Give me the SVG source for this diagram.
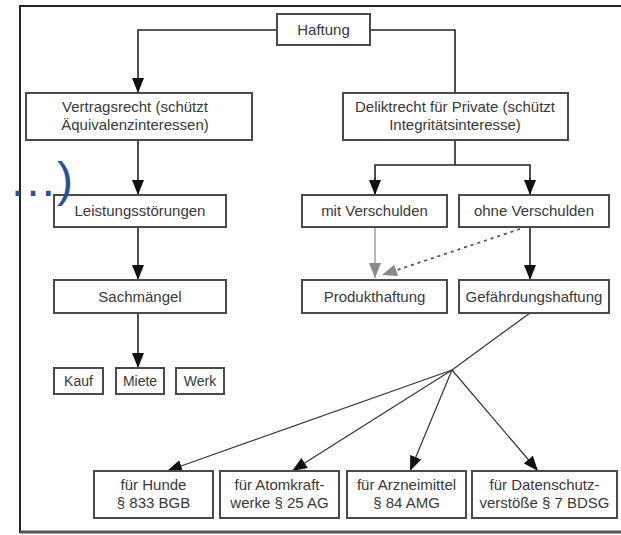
<svg xmlns="http://www.w3.org/2000/svg" width="621" height="535" viewBox="0 0 621 535">
  <style>
    .box { fill: #ffffff; stroke: #4a4a4a; stroke-width: 2; }
    .t { font-family: "Liberation Sans", Arial, sans-serif; font-size: 15px; fill: #383838; text-anchor: middle; }
    .ts { font-family: "Liberation Sans", Arial, sans-serif; font-size: 14px; fill: #383838; text-anchor: middle; }
    .ln { fill: none; stroke: #222222; stroke-width: 1.6; }
    .thin { fill: none; stroke: #333333; stroke-width: 1.2; }
    .gray { fill: none; stroke: #9a9a9a; stroke-width: 1.4; }
    .dot { fill: none; stroke: #555555; stroke-width: 1.8; stroke-dasharray: 3 4; }
    .frame { fill: none; stroke: #222222; stroke-width: 2; }
  </style>
  <defs>
    <marker id="ah" markerUnits="userSpaceOnUse" markerWidth="16" markerHeight="12" refX="15" refY="6" orient="auto">
      <path d="M0,0 L15,6 L0,12 z" fill="#111111"/>
    </marker>
    <marker id="ahg" markerUnits="userSpaceOnUse" markerWidth="16" markerHeight="12" refX="15" refY="6" orient="auto">
      <path d="M0,0 L15,6 L0,12 z" fill="#8a8a8a"/>
    </marker>
  </defs>

  <rect x="0" y="0" width="621" height="535" fill="#ffffff"/>
  <g id="frame">
    <polyline class="frame" points="621,6 20,6 20,533"/>
    <line x1="20" y1="532" x2="621" y2="532" stroke="#555555" stroke-width="3"/>
  </g>

  <g id="connectors">
    <polyline class="ln" points="277,30 138,30 138,93" marker-end="url(#ah)"/>
    <polyline class="ln" points="370,30 455,30 455,93"/>
    <line class="ln" x1="138" y1="140" x2="138" y2="195" marker-end="url(#ah)"/>
    <line class="ln" x1="455" y1="140" x2="455" y2="165"/>
    <polyline class="ln" points="375,195 375,165 530,165 530,195"/>
    <line class="ln" x1="375" y1="178" x2="375" y2="195" marker-end="url(#ah)"/>
    <line class="ln" x1="530" y1="178" x2="530" y2="195" marker-end="url(#ah)"/>
    <line class="ln" x1="138" y1="227" x2="138" y2="280" marker-end="url(#ah)"/>
    <line class="ln" x1="138" y1="313" x2="138" y2="368" marker-end="url(#ah)"/>
    <line class="gray" x1="375" y1="227" x2="375" y2="278" marker-end="url(#ahg)"/>
    <line class="dot" x1="520" y1="229" x2="382" y2="275" marker-end="url(#ahg)"/>
    <line class="ln" x1="530" y1="227" x2="530" y2="280" marker-end="url(#ah)"/>
    <line class="thin" x1="530" y1="313" x2="452" y2="370"/>
    <line class="thin" x1="452" y1="370" x2="167" y2="471" marker-end="url(#ah)"/>
    <line class="thin" x1="452" y1="370" x2="292" y2="471" marker-end="url(#ah)"/>
    <line class="thin" x1="452" y1="370" x2="410" y2="471" marker-end="url(#ah)"/>
    <line class="thin" x1="452" y1="370" x2="538" y2="471" marker-end="url(#ah)"/>
  </g>

  <g id="haftung">
    <rect class="box" x="277" y="14" width="93" height="31"/>
    <text class="t" x="323.5" y="35">Haftung</text>
  </g>
  <g id="vertragsrecht">
    <rect class="box" x="26" y="93" width="226" height="47"/>
    <text class="t" x="135" y="112">Vertragsrecht (schützt</text>
    <text class="t" x="135" y="130">Äquivalenzinteressen)</text>
  </g>
  <g id="deliktrecht">
    <rect class="box" x="343" y="93" width="225" height="47"/>
    <text class="t" x="455" y="112">Deliktrecht für Private (schützt</text>
    <text class="t" x="455" y="130">Integritätsinteresse)</text>
  </g>
  <g id="leistungsstoerungen">
    <rect class="box" x="54" y="195" width="172" height="32"/>
    <text class="t" x="140" y="216">Leistungsstörungen</text>
  </g>
  <g id="sachmaengel">
    <rect class="box" x="54" y="280" width="172" height="33"/>
    <text class="t" x="140" y="302">Sachmängel</text>
  </g>
  <g id="kauf">
    <rect class="box" x="54" y="368" width="49" height="26"/>
    <text class="ts" x="78.5" y="386">Kauf</text>
  </g>
  <g id="miete">
    <rect class="box" x="116" y="368" width="48" height="26"/>
    <text class="ts" x="140" y="386">Miete</text>
  </g>
  <g id="werk">
    <rect class="box" x="176" y="368" width="48" height="26"/>
    <text class="ts" x="200" y="386">Werk</text>
  </g>
  <g id="mit-verschulden">
    <rect class="box" x="302" y="195" width="145" height="32"/>
    <text class="t" x="374.5" y="216">mit Verschulden</text>
  </g>
  <g id="ohne-verschulden">
    <rect class="box" x="459" y="195" width="150" height="32"/>
    <text class="t" x="534" y="216">ohne Verschulden</text>
  </g>
  <g id="produkthaftung">
    <rect class="box" x="302" y="280" width="145" height="33"/>
    <text class="t" x="374.5" y="302">Produkthaftung</text>
  </g>
  <g id="gefaehrdungshaftung">
    <rect class="box" x="459" y="280" width="150" height="33"/>
    <text class="t" x="534" y="302">Gefährdungshaftung</text>
  </g>
  <g id="hunde">
    <rect class="box" x="94" y="471" width="119" height="47"/>
    <text class="t" x="153.5" y="490">für Hunde</text>
    <text class="t" x="153.5" y="508">§ 833 BGB</text>
  </g>
  <g id="atomkraft">
    <rect class="box" x="220" y="471" width="119" height="47"/>
    <text class="t" x="279.5" y="490">für Atomkraft-</text>
    <text class="t" x="279.5" y="508">werke § 25 AG</text>
  </g>
  <g id="arzneimittel">
    <rect class="box" x="347" y="471" width="119" height="47"/>
    <text class="t" x="406.5" y="490">für Arzneimittel</text>
    <text class="t" x="406.5" y="508">§ 84 AMG</text>
  </g>
  <g id="datenschutz">
    <rect class="box" x="472" y="471" width="145" height="47"/>
    <text class="t" x="544.5" y="490">für Datenschutz-</text>
    <text class="t" x="544.5" y="508">verstöße § 7 BDSG</text>
  </g>

  <g id="annotation">
    <text x="9" y="196" font-family="Liberation Sans, Arial, sans-serif" font-size="48" fill="#2b4ea2">…)</text>
  </g>
</svg>
